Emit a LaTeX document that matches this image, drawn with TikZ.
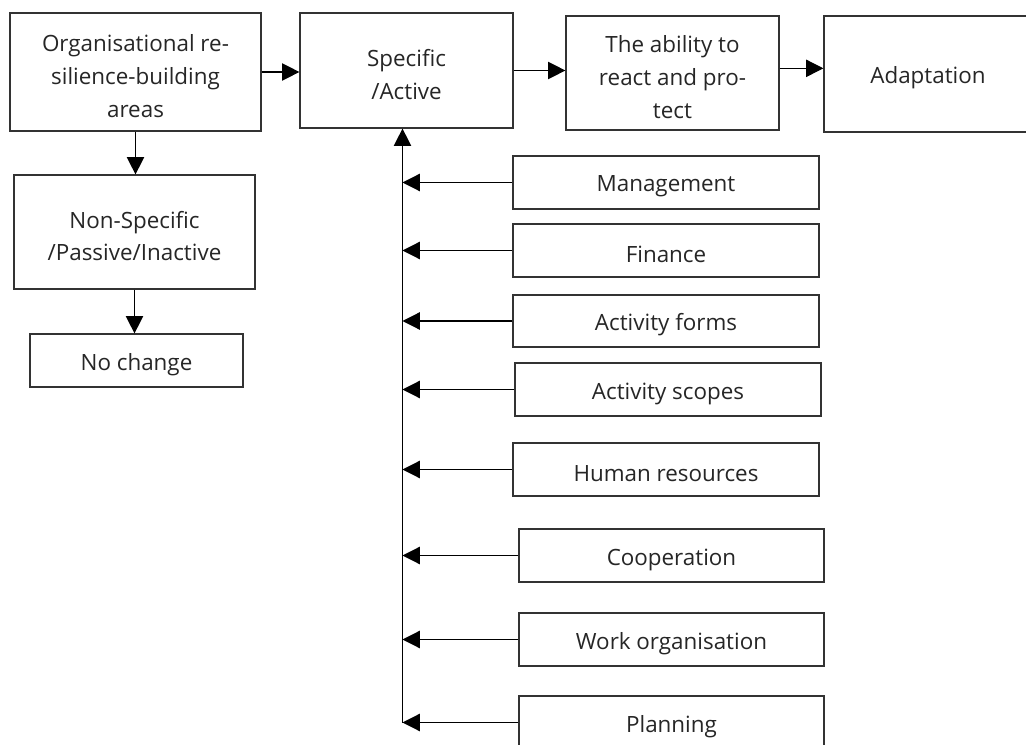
\documentclass[tikz,border=0pt]{standalone}
\usepackage{fontspec}
\setmainfont{Open Sans}
\usetikzlibrary{arrows.meta}
\tikzset{
  box/.style={draw=black!80, line width=0.9pt, inner sep=0pt},
  lbl/.style={align=center, inner sep=0pt, yshift=-3pt, text=black!85,
    font=\fontsize{16.8}{24.5}\selectfont},
  arr/.style={draw=black, line width=0.9pt, -{Triangle[length=13pt,width=13pt]}}
}
\begin{document}
\begin{tikzpicture}[x=0.75pt,y=-0.75pt]
\path[use as bounding box, clip] (0,0) rectangle (1026,745);
\fill[white] (0,0) rectangle (1026,745);
% top row
\node[box, minimum width=188.25pt, minimum height=88.5pt, label={[lbl]center:{Organisational re-\\silience-building\\areas}}] (org) at (135.5,72) {};
\node[box, minimum width=159.75pt, minimum height=86.25pt, label={[lbl]center:{Specific\\/Active}}] (spec) at (406.5,70.5) {};
\node[box, minimum width=159.75pt, minimum height=85.5pt, label={[lbl]center:{The ability to\\react and pro-\\tect}}] (abil) at (672.5,73) {};
\node[box, minimum width=156pt, minimum height=87pt, label={[lbl]center:{Adaptation}}] (adap) at (928,74) {};
% left column
\node[box, minimum width=180.75pt, minimum height=85.5pt, label={[lbl]center:{Non-Specific\\/Passive/Inactive}}] (nons) at (134.5,232) {};
\node[box, minimum width=159.75pt, minimum height=39.75pt, label={[lbl]center:{No change}}] (noch) at (136.5,360.5) {};
% right column
\node[box, minimum width=229.5pt, minimum height=39.75pt, label={[lbl]center:{Management}}] (mgmt) at (666,182.5) {};
\node[box, minimum width=229.5pt, minimum height=39.75pt, label={[lbl]center:{Finance}}] (fin) at (666,250.5) {};
\node[box, minimum width=229.5pt, minimum height=39pt, label={[lbl]center:{Activity forms}}] (forms) at (666,321) {};
\node[box, minimum width=229.5pt, minimum height=39.75pt, label={[lbl]center:{Activity scopes}}] (scopes) at (668,389.5) {};
\node[box, minimum width=229.5pt, minimum height=39.75pt, label={[lbl]center:{Human resources}}] (hr) at (666,469.5) {};
\node[box, minimum width=228.75pt, minimum height=39.75pt, label={[lbl]center:{Cooperation}}] (coop) at (671.5,555.5) {};
\node[box, minimum width=228.75pt, minimum height=39.75pt, label={[lbl]center:{Work organisation}}] (work) at (671.5,639.5) {};
\node[box, minimum width=228.75pt, minimum height=39.75pt, label={[lbl]center:{Planning}}] (plan) at (671.5,722.5) {};
% connectors
\draw[arr] (org.east) -- (org.east -| spec.west);
\draw[arr] (spec.east) -- (spec.east -| abil.west);
\draw[arr] ([yshift=3.5pt]abil.east) -- ([yshift=3.5pt]abil.east -| adap.west);
\draw[arr] (org.south) -- (org.south |- nons.north);
\draw[arr] (nons.south) -- (nons.south |- noch.north);
\coordinate (vb) at (402.5,723);
\draw[arr] (vb) -- (spec.south -| vb);
\foreach \n in {mgmt,fin,forms,scopes,hr,coop,work,plan}
  \draw[arr] (\n.west) -- (\n.west -| vb);
\end{tikzpicture}
\end{document}
